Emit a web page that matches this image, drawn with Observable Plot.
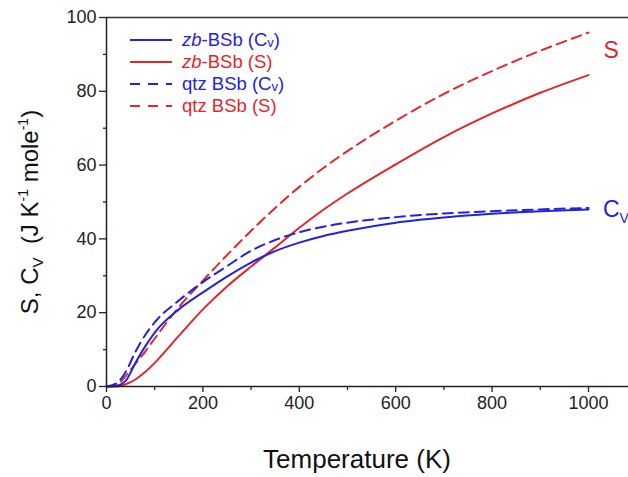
<!DOCTYPE html>
<html><head><meta charset="utf-8">
<script src="https://cdn.jsdelivr.net/npm/d3@7"></script>
<script src="https://cdn.jsdelivr.net/npm/@observablehq/plot@0.6"></script>
<style>
body{margin:0;background:#fff;}
#chart{position:relative;width:628px;height:477px;overflow:hidden;}
</style>
</head><body><div id="chart"></div>
<script>
// Temperature grid (K)
const temperature = [0, 20, 40, 60, 80, 100, 150, 200, 250, 300, 350, 400, 450, 500, 600, 700, 800, 900, 1000];
// zb-BSb heat capacity Cv (J K^-1 mole^-1)
const zbCv  = [0, 0.2, 1.6, 6.4, 10.8, 14.6, 20.9, 25.5, 29.8, 33.6, 36.7, 39.0, 40.8, 42.2, 44.4, 45.8, 46.8, 47.5, 48.0];
// zb-BSb entropy S
const zbS   = [0, 0.0, 0.6, 1.9, 3.9, 6.4, 13.7, 20.9, 27.1, 32.5, 37.7, 43.0, 47.9, 52.3, 60.2, 67.6, 74.0, 79.6, 84.4];
// qtz BSb heat capacity Cv
const qtzCv = [0, 0.8, 4.0, 9.4, 13.9, 17.4, 23.3, 28.3, 32.6, 36.8, 39.7, 41.8, 43.3, 44.4, 45.9, 46.9, 47.5, 48.0, 48.4];
// qtz BSb entropy S
const qtzS  = [0, 0.3, 2.9, 6.2, 9.4, 13.0, 21.5, 28.7, 35.6, 42.2, 48.4, 54.1, 59.2, 63.8, 72.0, 79.3, 85.5, 91.0, 95.9];

const xMajor = [0, 200, 400, 600, 800, 1000];
const xMinor = [100, 300, 500, 700, 900];
const yMajor = [0, 20, 40, 60, 80, 100];
const yMinor = [10, 30, 50, 70, 90];

const BLUE = "#2222e0";
const RED = "#e4262b";
const FONT = "'Liberation Sans', Arial, sans-serif";

const series = (vals) => temperature.map((t, i) => ({t, v: vals[i]}));

const lineOpts = (color, dashed) => ({
  x: "t", y: "v", stroke: color, strokeWidth: 2, curve: "monotone-x",
  strokeDasharray: dashed ? "10,6" : null
});

const plot = Plot.plot({
  width: 628,
  height: 477,
  marginLeft: 106,
  marginRight: 0,
  marginTop: 17,
  marginBottom: 91,
  style: {fontFamily: FONT, background: "#fff", color: "#222", overflow: "visible"},
  x: {domain: [0, 1083]},
  y: {domain: [0, 100]},
  marks: [
    Plot.axisX({ticks: xMinor, tickSize: 4, tickFormat: () => "", label: null, strokeWidth: 1.3}),
    Plot.axisX({ticks: xMajor, tickSize: 6, tickPadding: 4, fontSize: 18, label: null, strokeWidth: 1.3, tickFormat: d3.format("d")}),
    Plot.axisY({ticks: yMinor, tickSize: 3, tickFormat: () => "", label: null, strokeWidth: 1.3}),
    Plot.axisY({ticks: yMajor, tickSize: 7, tickPadding: 3, fontSize: 18, label: null, strokeWidth: 1.3, tickFormat: d3.format("d")}),
    Plot.line(series(zbS), lineOpts(RED, false)),
    Plot.line(series(qtzS), lineOpts(RED, true)),
    Plot.line(series(qtzCv), lineOpts(BLUE, true)),
    Plot.line(series(zbCv), lineOpts(BLUE, false)),
    Plot.ruleY([0], {stroke: "#222", strokeWidth: 1.5}),
    Plot.ruleY([100], {stroke: "#333", strokeWidth: 1.5}),
    Plot.ruleX([0], {stroke: "#222", strokeWidth: 1.5}),
    Plot.text([{t: 1000, v: zbS[zbS.length - 1] + 6.5}], {x: "t", y: "v", text: () => "S", fill: RED, fontSize: 23, dx: 15, textAnchor: "start"})
  ]
});

document.getElementById("chart").appendChild(plot);
const svg = d3.select(plot);

// Cv label at right end of the Cv curves
const xs = plot.scale("x"), ys = plot.scale("y");
const cvLabel = svg.append("text")
  .attr("x", xs.apply(1000) + 15)
  .attr("y", ys.apply(zbCv[zbCv.length - 1]) + 8)
  .attr("text-anchor", "start")
  .attr("fill", BLUE).attr("font-size", 23).attr("font-family", FONT);
cvLabel.append("tspan").text("C");
cvLabel.append("tspan").attr("font-size", 14).attr("dy", 6).text("V");

// Legend
const legend = [
  {name: ["zb", "-BSb (C", "v", ")"], color: BLUE, dash: null},
  {name: ["zb", "-BSb (S)"], color: RED, dash: null},
  {name: ["", "qtz BSb (C", "v", ")"], color: BLUE, dash: "10,8"},
  {name: ["", "qtz BSb (S)"], color: RED, dash: "10,8"}
];
const lg = svg.append("g");
legend.forEach((d, i) => {
  const y = 40 + i * 22;
  lg.append("line").attr("x1", 130).attr("x2", 172).attr("y1", y).attr("y2", y)
    .attr("stroke", d.color).attr("stroke-width", 2).attr("stroke-dasharray", d.dash);
  const t = lg.append("text").attr("x", 182).attr("y", y + 6).attr("fill", d.color)
    .attr("text-anchor", "start")
    .attr("font-size", 18.5).attr("font-family", FONT);
  if (d.name[0]) t.append("tspan").attr("font-style", "italic").text(d.name[0]);
  t.append("tspan").text(d.name[1]);
  if (d.name.length > 2) {
    t.append("tspan").attr("font-size", 13).attr("dy", 1).text(d.name[2]);
    t.append("tspan").attr("dy", -1).text(d.name[3]);
  }
});

// Axis titles
svg.append("text").attr("x", 357).attr("y", 468).attr("text-anchor", "middle")
  .attr("font-size", 26).attr("font-family", FONT).attr("fill", "#111").text("Temperature (K)");

const yl = svg.append("text").attr("transform", "translate(38,212) rotate(-90)")
  .attr("text-anchor", "middle").attr("font-size", 24).attr("font-family", FONT).attr("fill", "#111");
yl.append("tspan").text("S, C");
yl.append("tspan").attr("font-size", 15).attr("dy", 5).text("V");
yl.append("tspan").attr("dy", -5).text("  (J K");
yl.append("tspan").attr("font-size", 14).attr("dy", -10).text("-1");
yl.append("tspan").attr("dy", 10).text(" mole");
yl.append("tspan").attr("font-size", 14).attr("dy", -10).text("-1");
yl.append("tspan").attr("dy", 10).text(")");
</script>
</body></html>
